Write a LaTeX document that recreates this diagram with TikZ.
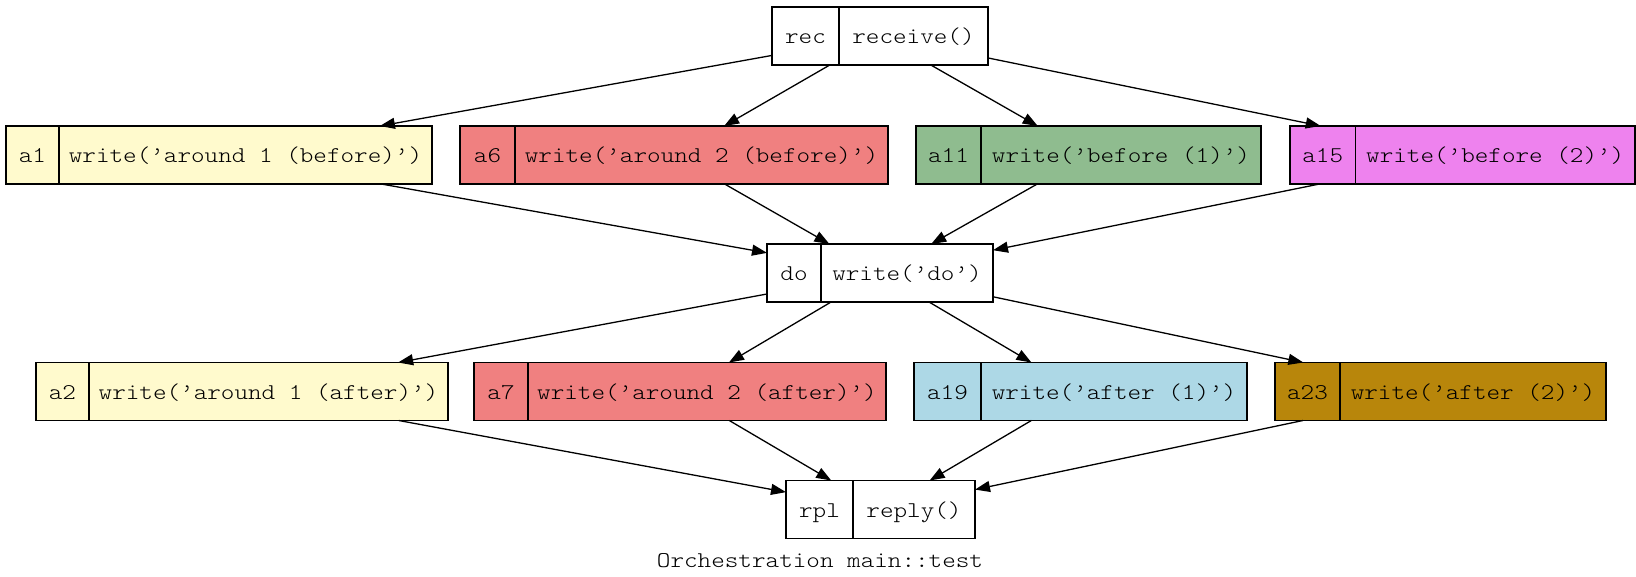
\documentclass[tikz,border=0pt]{standalone}
\usepackage{fontspec}
\newfontfamily\courfont[FakeStretch=1.15]{Latin Modern Mono Light}
\usetikzlibrary{arrows.meta}
\definecolor{lemon}{HTML}{FFFACD}
\definecolor{lcoral}{HTML}{F08080}
\definecolor{dsgreen}{HTML}{8FBC8F}
\definecolor{violetc}{HTML}{EE82EE}
\definecolor{lblue}{HTML}{ADD8E6}
\definecolor{dgold}{HTML}{B8860B}
\tikzset{
  recshape/.style={draw=black, line width=1.3pt, rectangle, inner sep=0pt, outer sep=0pt, minimum height=58pt},
  lbl/.style={font=\courfont\fontsize{22.5}{26}\selectfont, inner sep=0pt, anchor=base},
  divline/.style={draw=black, line width=1.3pt},
  edge/.style={draw=black, line width=1.3pt, -{Triangle[length=15pt,width=11pt]}}
}
% #1 name, #2 left, #3 divider, #4 right, #5 y centre, #6 fill, #7 key, #8 text
\newcommand\recbox[8]{%
  \node[recshape, fill=#6, minimum width={#4-#2}] (#1) at ({(#2+#4)/2}, #5) {};
  \node[lbl] (#1k) at ({(#2+#3)/2}, #5+7.7) {#7};
  \node[lbl] (#1t) at ({(#3+#4)/2}, #5+7.7) {#8};
  \draw[divline] ([xshift={(#3-#2)*1pt}]#1.north west) -- ([xshift={(#3-#2)*1pt}]#1.south west);
}
\begin{document}
\begin{tikzpicture}[x=1pt, y=-1pt]
\useasboundingbox (0,0) rectangle (1636,577);
\recbox{rec}{772}{839}{988}{36}{white}{rec}{receive()}
\recbox{a1}{6}{59}{432}{155}{lemon}{a1}{write(’around 1 (before)’)}
\recbox{a6}{460}{515}{888}{155}{lcoral}{a6}{write(’around 2 (before)’)}
\recbox{a11}{916}{981}{1261}{155}{dsgreen}{a11}{write(’before (1)’)}
\recbox{a15}{1290}{1355.5}{1635}{155}{violetc}{a15}{write(’before (2)’)}
\recbox{do}{767}{821}{993}{273}{white}{do}{write(’do’)}
\recbox{a2}{36}{89}{448}{391.5}{lemon}{a2}{write(’around 1 (after)’)}
\recbox{a7}{474}{528}{886}{391.5}{lcoral}{a7}{write(’around 2 (after)’)}
\recbox{a19}{914}{981}{1247}{391.5}{lblue}{a19}{write(’after (1)’)}
\recbox{a23}{1275}{1340}{1606}{391.5}{dgold}{a23}{write(’after (2)’)}
\recbox{rpl}{786}{853}{975}{509.5}{white}{rpl}{reply()}
\node[lbl] (caption) at (820,567) {Orchestration main::test};
\foreach \n in {a1,a6,a11,a15}{
  \draw[edge] (rec) -- (\n);
  \draw[edge] (\n) -- (do);
}
\foreach \n in {a2,a7,a19,a23}{
  \draw[edge] (do) -- (\n);
  \draw[edge] (\n) -- (rpl);
}
\end{tikzpicture}
\end{document}
